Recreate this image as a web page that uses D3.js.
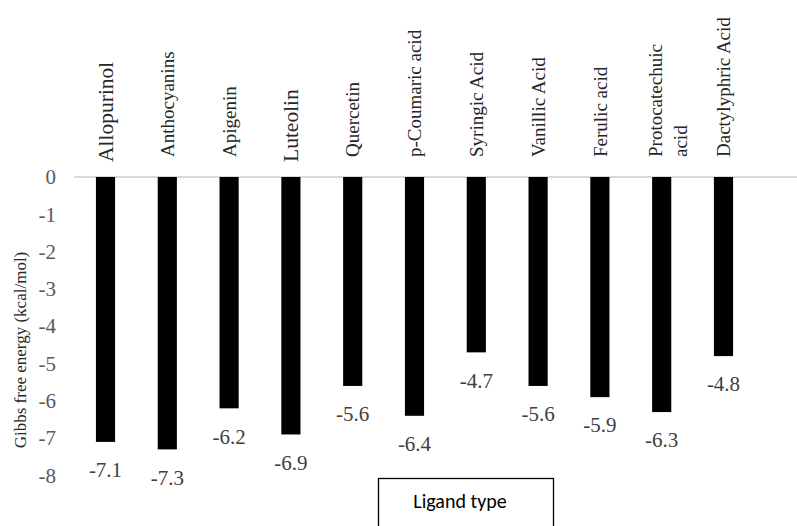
<!DOCTYPE html>
<html>
<head>
<meta charset="utf-8">
<script src="https://cdn.jsdelivr.net/npm/d3@7/dist/d3.min.js"></script>
<style>
  html, body { margin: 0; padding: 0; background: #fff; }
  svg { display: block; }
  svg text { font-family: "Liberation Serif"; }
  svg text.sans { font-family: "Carlito"; }
</style>
</head>
<body>
<svg id="chart" width="797" height="526" font-family="Liberation Serif"></svg>
<script>
const categories = ["Allopurinol", "Anthocyanins", "Apigenin", "Luteolin", "Quercetin",
  "p-Coumaric acid", "Syringic Acid", "Vanillic Acid", "Ferulic acid",
  "Protocatechuic\nacid", "Dactylyphric Acid"];
const values = [-7.1, -7.3, -6.2, -6.9, -5.6, -6.4, -4.7, -5.6, -5.9, -6.3, -4.8];
const yTicks = [0, -1, -2, -3, -4, -5, -6, -7, -8];
const largeLabels = ["Allopurinol", "Luteolin"];
const yTitle = "Gibbs free energy (kcal/mol)";
const xTitle = "Ligand type";

const svg = d3.select("#chart");

const x = d3.scaleBand().domain(categories).range([74.6, 754.4])
  .paddingInner(0.69).paddingOuter(0.345);
const y = d3.scaleLinear().domain([-8, 0]).range([475.5, 177]);

// zero line
svg.append("line")
  .attr("x1", 74).attr("x2", 797)
  .attr("y1", y(0)).attr("y2", y(0))
  .attr("stroke", "#d9d9d9").attr("stroke-width", 2);

// y axis (labels only)
const yAxis = d3.axisLeft(y).tickValues(yTicks).tickSize(0).tickPadding(0)
  .tickFormat(d => d === 0 ? "0" : "-" + Math.abs(d));
const ya = svg.append("g").attr("transform", "translate(56,0)").call(yAxis);
ya.select(".domain").remove();
ya.attr("font-family", "Liberation Serif").attr("font-size", 21);
ya.selectAll("text")
  .attr("fill", "#595959")
  .attr("dy", "0.32em");

// bars
svg.selectAll("rect.bar").data(categories).enter().append("rect")
  .attr("class", "bar")
  .attr("x", d => x(d))
  .attr("width", x.bandwidth())
  .attr("y", y(0))
  .attr("height", (d, i) => y(values[i]) - y(0))
  .attr("fill", "#000");

// value labels
svg.selectAll("text.val").data(categories).enter().append("text")
  .attr("class", "val")
  .attr("x", d => x(d) + x.bandwidth() / 2)
  .attr("y", (d, i) => y(values[i]) + 28)
  .attr("dy", "0.35em")
  .attr("text-anchor", "middle")
  .attr("font-size", 21).attr("fill", "#404040")
  .text((d, i) => d3.format(".1f")(values[i]).replace("−", "-"));

// category labels (rotated, top)
categories.forEach(c => {
  const cx = x(c) + x.bandwidth() / 2;
  const lines = c.split("\n");
  const big = largeLabels.includes(c);
  const fs = big ? 21.5 : 19;
  const startY = big ? 162 : 157;
  const n = lines.length;
  lines.forEach((ln, i) => {
    const off = (i - (n - 1) / 2) * 25 + (n > 1 ? 6 : 0);
    svg.append("text")
      .attr("transform", `translate(${cx + off},${startY}) rotate(-90)`)
      .attr("text-anchor", "start")
      .attr("dy", "0.35em")
      .attr("font-size", fs).attr("fill", "#262626")
      .text(ln);
  });
});

// y title
svg.append("text")
  .attr("transform", "translate(20,350) rotate(-90)")
  .attr("text-anchor", "middle")
  .attr("dy", "0.35em")
  .attr("font-size", 17).attr("fill", "#262626")
  .text(yTitle);

// x title box
svg.append("rect")
  .attr("x", 378.5).attr("y", 478.5).attr("width", 175).attr("height", 80)
  .attr("fill", "#fff").attr("stroke", "#000").attr("stroke-width", 1.3);
svg.append("text")
  .attr("class", "sans")
  .attr("x", 460).attr("y", 508)
  .attr("text-anchor", "middle")
  .attr("font-size", 20).attr("fill", "#000")
  .text(xTitle);
</script>
</body>
</html>
